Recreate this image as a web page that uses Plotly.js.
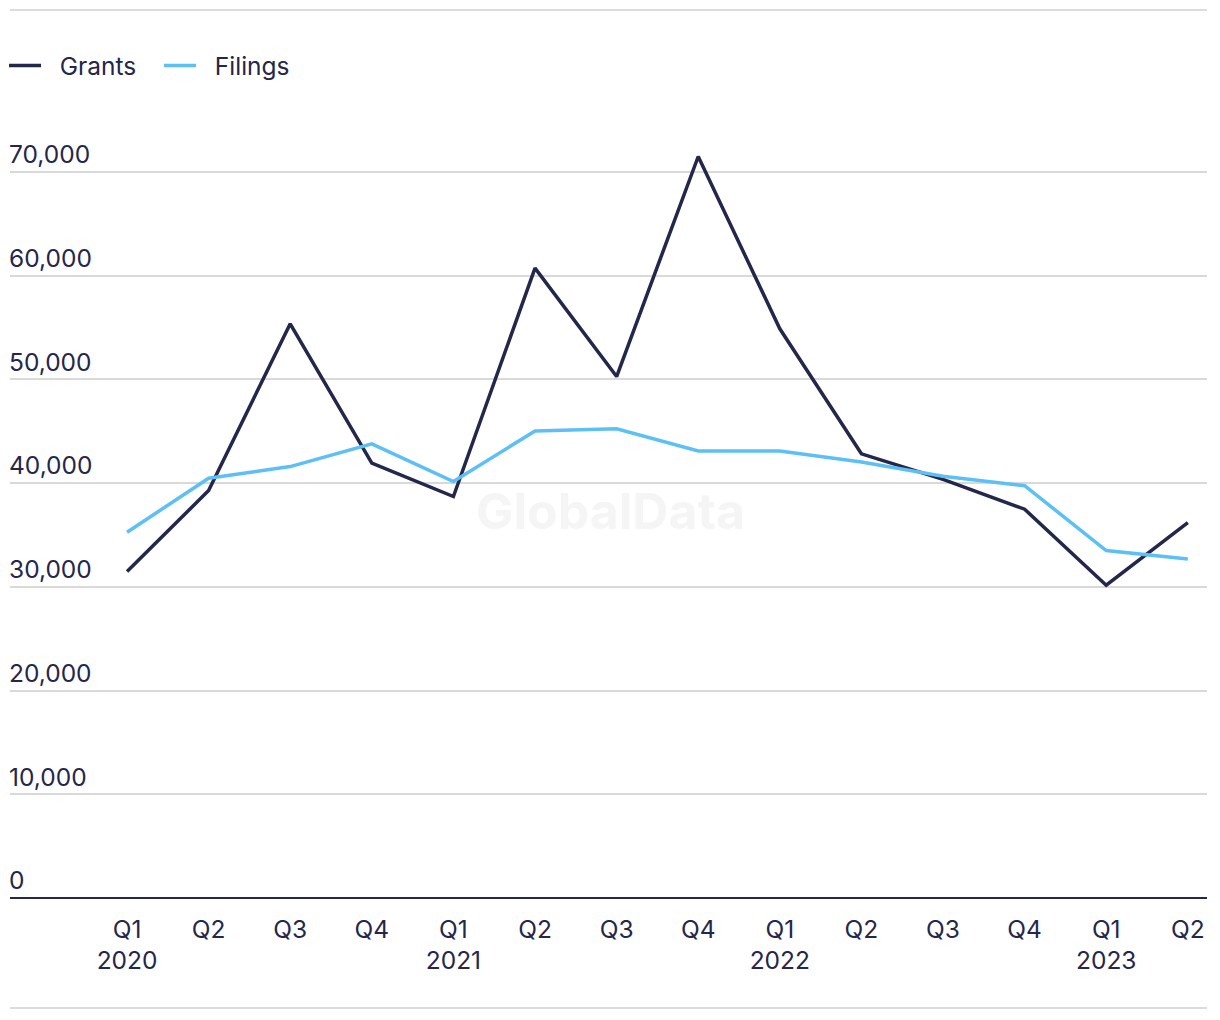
<!DOCTYPE html>
<html>
<head>
<meta charset="utf-8">
<script src="https://cdn.plot.ly/plotly-3.0.1.min.js"></script>
<style>html,body{margin:0;padding:0;background:#fff;}#chart{width:1220px;height:1020px;}</style>
</head>
<body>
<div id="chart"></div>
<script>
var quarters = ["Q1 2020","Q2 2020","Q3 2020","Q4 2020","Q1 2021","Q2 2021","Q3 2021","Q4 2021","Q1 2022","Q2 2022","Q3 2022","Q4 2022","Q1 2023","Q2 2023"];
var tickLabels = ["Q1<br>2020","Q2","Q3","Q4","Q1<br>2021","Q2","Q3","Q4","Q1<br>2022","Q2","Q3","Q4","Q1<br>2023","Q2"];
var grants = [31470, 39280, 55350, 41920, 38700, 60720, 50270, 71480, 54870, 42820, 40360, 37480, 30150, 36190];
var filings = [35260, 40470, 41590, 43780, 40140, 45030, 45230, 43100, 43100, 42040, 40650, 39750, 33490, 32690];
var yTicks = [0, 10000, 20000, 30000, 40000, 50000, 60000, 70000];

var FONT = "Inter, 'Noto Sans', sans-serif";
var FS = 24.5;
var traces = [
  {x: quarters, y: grants, name: "\u00a0\u00a0Grants", type: "scatter", mode: "lines",
   line: {color: "#24264a", width: 3.5}},
  {x: quarters, y: filings, name: "\u00a0\u00a0Filings", type: "scatter", mode: "lines",
   line: {color: "#5cc0f7", width: 3.5}}
];
var layout = {
  width: 1220, height: 1020,
  margin: {l: 10, r: 13, t: 120, b: 122, autoexpand: false},
  paper_bgcolor: "#fff", plot_bgcolor: "#fff",
  font: {family: FONT, size: FS, color: "#24264a"},
  showlegend: true,
  legend: {orientation: "h", x: -0.005, xanchor: "left", y: 1.07, yanchor: "middle",
           font: {family: FONT, size: FS, color: "#24264a"}, itemwidth: 32,
           entrywidth: 108, entrywidthmode: "pixels"},
  xaxis: {type: "category", categoryorder: "array", categoryarray: quarters,
          tickmode: "array", tickvals: quarters, ticktext: tickLabels,
          range: [-1.434, 13.235], showgrid: false, zeroline: false, automargin: false,
          showline: false, ticks: "", ticklabelstandoff: 14,
          tickfont: {family: FONT, size: FS, color: "#24264a"},
          fixedrange: true},
  yaxis: {range: [0, 75000], tickvals: yTicks, tickformat: ",d", automargin: false,
          ticklabelposition: "inside top", ticklabelstandoff: -4,
          showgrid: true, gridcolor: "#d9d9d9", gridwidth: 2,
          zeroline: true, zerolinecolor: "#24264a", zerolinewidth: 2,
          showline: false, ticks: "", tickfont: {family: FONT, size: FS, color: "#24264a"},
          fixedrange: true},
  shapes: [
    {type: "line", xref: "paper", yref: "paper", x0: 0, x1: 1, y0: 1.1414, y1: 1.1414,
     line: {color: "#dcdcdc", width: 2}},
    {type: "line", xref: "paper", yref: "paper", x0: 0, x1: 1, y0: -0.1414, y1: -0.1414,
     line: {color: "#dcdcdc", width: 2}}
  ],
  annotations: [
    {text: "<b>GlobalData</b>", xref: "paper", yref: "paper", x: 0.502, y: 0.497,
     showarrow: false, font: {family: FONT, size: 50, color: "#f5f5f5"}}
  ]
};
Plotly.newPlot("chart", traces, layout, {displayModeBar: false, staticPlot: true});
</script>
</body>
</html>
